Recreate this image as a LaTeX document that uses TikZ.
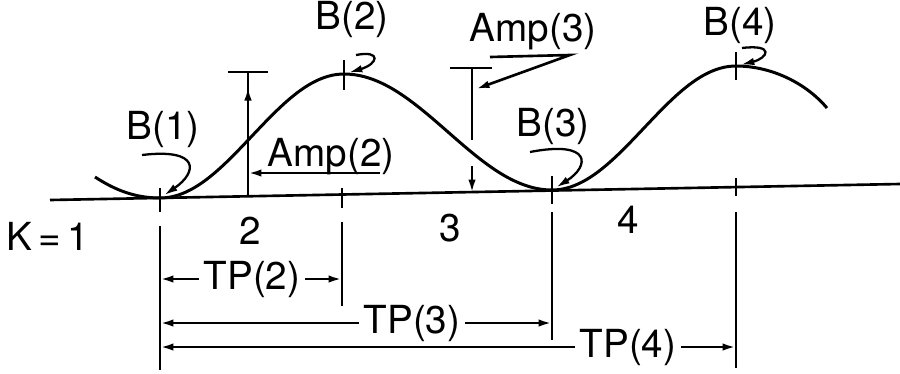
\documentclass[tikz,border=0pt]{standalone}
\usepackage{fontspec}
\setmainfont{TeX Gyre Heros}
\usetikzlibrary{arrows.meta}

\begin{document}
\begin{tikzpicture}[
  x=0.02cm, y=-0.02cm,
  line width=1.5pt,
  lbl/.style={inner sep=2pt,font=\fontsize{22}{24}\selectfont},
  wave/.style={line width=1.7pt},
  arr/.style={-{Latex[length=0.27cm,width=0.15cm]}},
  lead/.style={arr,line width=1.3pt,shorten >=0.1cm}
]
  \useasboundingbox (0,0) rectangle (900,373);

  % crests and troughs
  \coordinate (b1) at (160,198);
  \coordinate (b2) at (344,74);
  \coordinate (b3) at (552,190);
  \coordinate (b4) at (736,66);

  % base line and wave
  \draw (50,200) -- (900,184);
  \draw[wave] (95,177) .. controls (115,190) and (135,198) .. (b1)
    cos (252,136) sin (b2) cos (448,132) sin (b3)
    cos (644,128) sin (b4) .. controls (770,66) and (805,82) .. (827,108);

  % ticks
  \foreach \x/\ya/\yb in {160/188/212, 344/60/90, 342/188/208,
                         552/176/204, 736/52/80, 736/178/196}
    \draw (\x,\ya) -- (\x,\yb);

  % extension lines
  \coordinate (e1) at (160,226);
  \coordinate (e2) at (342,222);
  \coordinate (e3) at (552,212);
  \coordinate (e4) at (736,212);
  \draw (e1) -- ++(0,144);
  \draw (e2) -- ++(0,84);
  \draw (e3) -- ++(0,128);
  \draw (e4) -- ++(0,156);

  % labels
  \node[lbl] (lb1) at (163,130) {B(1)};
  \node[lbl] (lb2) at (352,20) {B(2)};
  \node[lbl] (lb3) at (553,127) {B(3)};
  \node[lbl] (lb4) at (740,26) {B(4)};
  \node[lbl] (la2) at (331,157) {Amp(2)};
  \node[lbl] (la3) at (533,32) {Amp(3)};
  \node[lbl] (k1) at (48,236) {K\,=\,1};
  \node[lbl] (n2) at (250,231) {2};
  \node[lbl] (n3) at (450,228) {3};
  \node[lbl] (n4) at (628,220) {4};
  \node[lbl] (tp2) at (252,279) {TP(2)};
  \node[lbl] (tp3) at (412,323) {TP(3)};
  \node[lbl] (tp4) at (628,347) {TP(4)};

  % leaders to the B points
  \coordinate (t1) at (142,155);
  \coordinate (t2) at (356,55);
  \coordinate (t3) at (530,152);
  \coordinate (t4) at (742,48);
  \draw[lead] (t1) .. controls (200,148) and (198,172) .. (b1);
  \draw[lead] (t2) .. controls (382,50) and (378,64) .. (b2);
  \draw[lead] (t3) .. controls (592,140) and (590,166) .. (b3);
  \draw[lead] (t4) .. controls (775,44) and (768,58) .. (b4);

  % amplitude 2
  \coordinate (a2t) at (248,72);
  \coordinate (a2b) at (248,196);
  \draw (a2b) -- (a2t);
  \draw[arr,shorten >=0.3cm] (a2b) -- (a2t);
  \draw (a2t) ++(-20,0) -- ++(40,0);
  \coordinate (u2) at (380,173);
  \draw[arr] (u2) -- (u2 -| a2t);

  % amplitude 3
  \coordinate (a3t) at (472,68);
  \coordinate (a3m) at (472,140);
  \coordinate (a3c) at (472,166);
  \coordinate (a3b) at (472,193);
  \draw (a3t) -- (a3m);
  \draw (a3t) ++(-22,0) -- ++(42,0);
  \draw[arr] (a3c) -- (a3b);
  \coordinate (u3a) at (490,57);
  \coordinate (u3b) at (570,55);
  \coordinate (a3p) at (476,89);
  \draw[arr] (u3a) -- (u3b) -- (a3p);

  % periods
  \draw[arr] (tp2) -- (tp2 -| e1);
  \draw[arr] (tp2) -- (tp2 -| e2);
  \draw[arr] (tp3) -- (tp3 -| e1);
  \draw[arr] (tp3) -- (tp3 -| e3);
  \draw[arr] (tp4) -- (tp4 -| e1);
  \draw[arr] (tp4) -- (tp4 -| e4);
\end{tikzpicture}
\end{document}
